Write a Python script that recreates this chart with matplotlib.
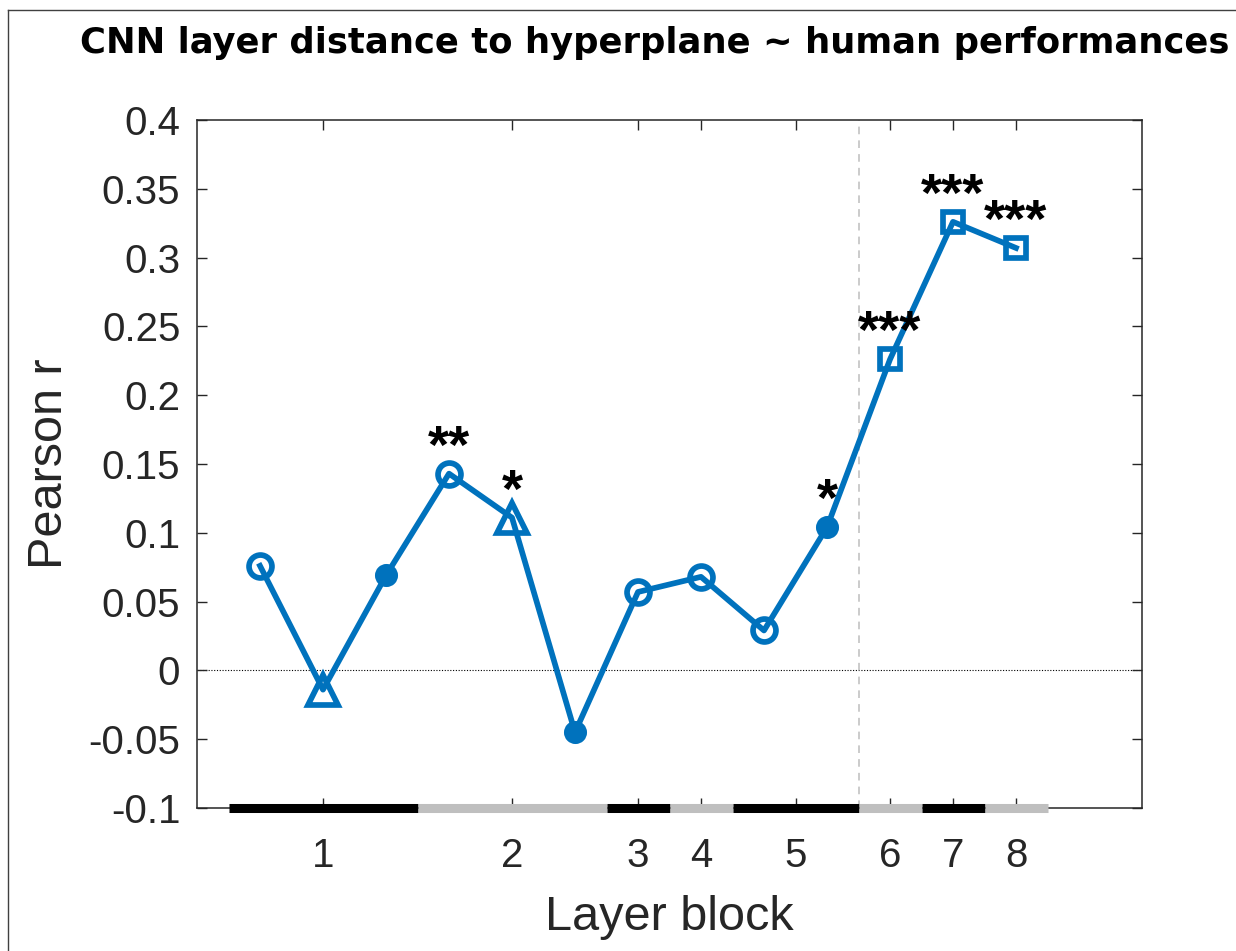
import matplotlib

matplotlib.use("Agg")

import matplotlib.pyplot as plt
from matplotlib.lines import Line2D

# ---- data ----------------------------------------------------------------- #
layer_idx = [1, 2, 3, 4, 5, 6, 7, 8, 9, 10, 11, 12, 13]
pearson_r = [0.076, -0.014, 0.069, 0.143, 0.111, -0.045, 0.057, 0.068,
             0.029, 0.104, 0.226, 0.326, 0.307]
markers = ["o", "^", "o", "o", "^", "o", "o", "o", "o", "o", "s", "s", "s"]
filled = [False, False, True, False, False, True, False, False, False, True,
          False, False, False]
stars = {4: "**", 5: "*", 10: "*", 11: "***", 12: "***", 13: "***"}

block_ticks = [2, 5, 7, 8, 9.5, 11, 12, 13]
block_labels = ["1", "2", "3", "4", "5", "6", "7", "8"]
block_edges = [0.5, 3.5, 6.5, 7.5, 8.5, 10.5, 11.5, 12.5, 13.5]
block_split = 10.5

y_ticks = [-0.1, -0.05, 0, 0.05, 0.1, 0.15, 0.2, 0.25, 0.3, 0.35, 0.4]
y_labels = ["-0.1", "-0.05", "0", "0.05", "0.1", "0.15", "0.2", "0.25",
            "0.3", "0.35", "0.4"]

BLUE = "#0072BD"
INK = "#262626"

plt.rcParams.update({
    "font.family": ["Liberation Sans", "DejaVu Sans"],
    "axes.edgecolor": INK,
    "axes.linewidth": 1.1,
    "xtick.color": INK,
    "ytick.color": INK,
    "xtick.direction": "in",
    "ytick.direction": "in",
})

fig = plt.figure(figsize=(12.36, 9.51), dpi=100)
W, H = 1236, 951
ax = fig.add_axes([197 / W, 1 - 808 / H, (1142 - 197) / W, (808 - 120) / H])

ax.axhline(0, color="black", lw=0.8, ls=(0, (1, 1.5)), zorder=1)
ax.axvline(block_split, color="#BDBDBD", lw=1.1, ls=(0, (5, 4)), zorder=1)

ax.plot(layer_idx, pearson_r, color=BLUE, lw=4.1, zorder=3)
for x, y, m, f in zip(layer_idx, pearson_r, markers, filled):
    ms = {"o": 16.5, "^": 21, "s": 15}[m]
    if f:
        ms = 12.5
    ax.plot(x, y, marker=m, ms=ms, mew=4.1, mec=BLUE,
            mfc=BLUE if f else "none", ls="none", zorder=4)

for x, s in stars.items():
    ax.text(x, pearson_r[x - 1] + 0.008, s, ha="center", va="baseline",
            fontsize=39, fontweight="bold", color="black", zorder=5)

# alternating black / grey block bar along the x axis
for i in range(len(block_edges) - 1):
    ax.plot(block_edges[i:i + 2], [-0.1, -0.1], lw=6.5, solid_capstyle="butt",
            color="black" if i % 2 == 0 else "#BFBFBF", clip_on=False, zorder=6)

ax.set_xlim(0, 15)
ax.set_ylim(-0.1, 0.4)
ax.set_xticks(block_ticks, block_labels)
ax.set_yticks(y_ticks, y_labels)
ax.tick_params(axis="both", labelsize=29, length=7, width=1.0,
               top=True, right=True, labelcolor=INK)
ax.tick_params(axis="x", pad=21)
ax.tick_params(axis="y", pad=12)
ax.set_xlabel("Layer block", fontsize=35, color=INK, labelpad=14)
ax.set_ylabel("Pearson r", fontsize=35, color=INK, labelpad=12)

fig.text(655 / W, 1 - 53 / H,
         "CNN layer distance to hyperplane ~ human performances",
         ha="center", va="baseline", fontsize=25.5, fontweight="bold",
         family="DejaVu Sans", color="black")

# figure frame (left and top edges visible)
fig.add_artist(Line2D([8 / W, 8 / W], [0, 1 - 10 / H], color="#404040", lw=1.0,
                      transform=fig.transFigure))
fig.add_artist(Line2D([8 / W, 1], [1 - 10 / H, 1 - 10 / H], color="#404040", lw=1.0,
                      transform=fig.transFigure))

fig.savefig("out.png", dpi=100)
